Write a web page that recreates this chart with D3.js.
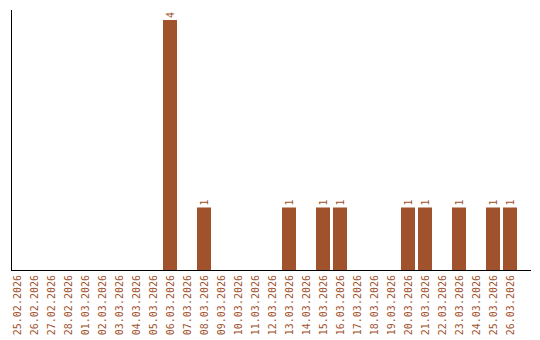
<!DOCTYPE html>
<html>
<head>
<meta charset="utf-8">
<script src="https://cdn.jsdelivr.net/npm/d3@7"></script>
<style>
  body { margin: 0; background: #fff; }
  text { font-family: "DejaVu Sans Mono", monospace; }
</style>
</head>
<body>
<svg width="540" height="340"></svg>
<script>
const days = ['25.02.2026','26.02.2026','27.02.2026','28.02.2026','01.03.2026','02.03.2026','03.03.2026','04.03.2026','05.03.2026','06.03.2026','07.03.2026','08.03.2026','09.03.2026','10.03.2026','11.03.2026','12.03.2026','13.03.2026','14.03.2026','15.03.2026','16.03.2026','17.03.2026','18.03.2026','19.03.2026','20.03.2026','21.03.2026','22.03.2026','23.03.2026','24.03.2026','25.03.2026','26.03.2026']
const counts = [0,0,0,0,0,0,0,0,0,4,0,1,0,0,0,0,1,0,1,1,0,0,0,1,1,0,1,0,1,1]

const color = '#a0522d'
const svg = d3.select('svg')
const base = 270

const x = d3.scaleBand()
  .domain(days)
  .range([8.5, 518.5])
  .paddingInner(3 / 17)
  .paddingOuter(3 / 34)

const y = d3.scaleLinear().domain([0, 4]).range([base, 20])

const data = days.map((d, i) => ({ day: d, value: counts[i] }))

svg.append('g')
  .selectAll('rect')
  .data(data.filter(d => d.value > 0))
  .enter().append('rect')
  .attr('x', d => x(d.day))
  .attr('y', d => y(d.value))
  .attr('width', x.bandwidth())
  .attr('height', d => base - y(d.value))
  .attr('fill', color)

// value labels, rotated
svg.append('g')
  .selectAll('text')
  .data(data.filter(d => d.value > 0))
  .enter().append('text')
  .attr('transform', d => `translate(${x(d.day) + x.bandwidth() / 2 + 3.5},${y(d.value) - 2}) rotate(-90)`)
  .attr('text-anchor', 'start')
  .attr('font-size', 10)
  .attr('fill', color)
  .text(d => d.value)

// axis lines
svg.append('line')
  .attr('x1', 11.5).attr('x2', 11.5)
  .attr('y1', 10).attr('y2', base)
  .attr('stroke', '#000')
svg.append('line')
  .attr('x1', 11).attr('x2', 531)
  .attr('y1', base + 0.5).attr('y2', base + 0.5)
  .attr('stroke', '#000')

// x tick labels
svg.append('g')
  .selectAll('text')
  .data(days)
  .enter().append('text')
  .attr('transform', d => `translate(${x(d) + x.bandwidth() / 2 + 3.5},${base + 5}) rotate(-90)`)
  .attr('text-anchor', 'end')
  .attr('font-size', 10)
  .attr('fill', color)
  .text(d => d)
</script>
</body>
</html>
